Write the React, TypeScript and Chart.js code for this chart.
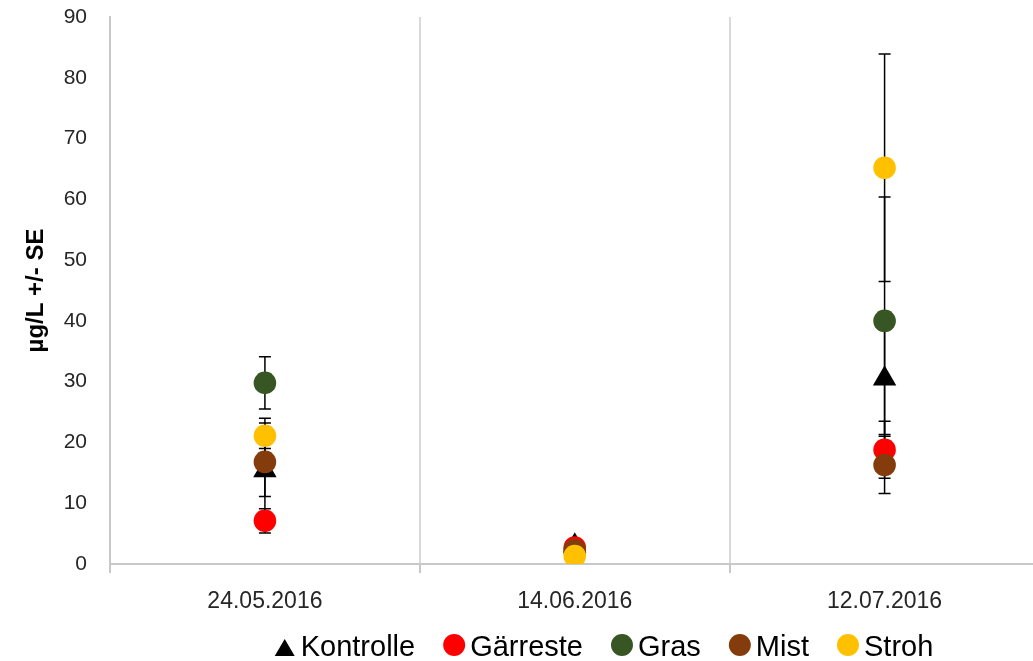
import { useEffect, useRef } from "react";
import { Chart, registerables } from "chart.js";

Chart.register(...registerables);

// Sampling dates (x categories)
const dates = ["24.05.2016", "14.06.2016", "12.07.2016"];

// Mean concentrations (µg/L) and standard errors per treatment
const kontrolle = [15.4, 3.0, 30.5];
const kontrolleSE = [8.6, 0.5, 9.2];
const gaerreste = [7.1, 2.7, 18.8];
const gaerresteSE = [2.0, 0.4, 4.7];
const gras = [29.8, 2.0, 40.0];
const grasSE = [4.3, 0.3, 20.4];
const mist = [16.8, 2.3, 16.3];
const mistSE = [5.7, 0.4, 4.7];
const stroh = [21.1, 1.3, 65.2];
const strohSE = [2.1, 0.3, 18.7];

// Y axis ticks
const yTicks = [0, 10, 20, 30, 40, 50, 60, 70, 80, 90];

const seriesNames = ["Kontrolle", "Gärreste", "Gras", "Mist", "Stroh"];
const seriesColors = ["#000000", "#FF0000", "#375623", "#843C0C", "#FFC000"];

const FONT = "'Liberation Sans', Arial, sans-serif";

// Vertical SE whiskers with caps, drawn underneath the markers
const errorBarPlugin = {
  id: "errorBars",
  beforeDatasetsDraw(chart: any) {
    const { ctx } = chart;
    const yScale = chart.scales.y;
    ctx.save();
    ctx.strokeStyle = "#000000";
    ctx.lineWidth = 1.5;
    chart.data.datasets.forEach((ds: any, i: number) => {
      const meta = chart.getDatasetMeta(i);
      meta.data.forEach((pt: any, j: number) => {
        const v = ds.data[j];
        const e = ds.errors[j];
        const x = pt.x;
        const yTop = yScale.getPixelForValue(v + e);
        const yBot = yScale.getPixelForValue(v - e);
        ctx.beginPath();
        ctx.moveTo(x, yTop);
        ctx.lineTo(x, yBot);
        ctx.moveTo(x - 6, yTop);
        ctx.lineTo(x + 6, yTop);
        ctx.moveTo(x - 6, yBot);
        ctx.lineTo(x + 6, yBot);
        ctx.stroke();
      });
    });
    ctx.restore();
  },
};

// Legend row below the axis
const legendPlugin = {
  id: "bottomLegend",
  afterDraw(chart: any) {
    const { ctx } = chart;
    const centerX = 603.5;
    const baseline = 656;
    const markerCY = 645;
    const r = 11;
    const markerToText = 27;
    const gap = 28;
    ctx.save();
    ctx.font = `29px ${FONT}`;
    const widths = seriesNames.map((n) => ctx.measureText(n).width);
    const total =
      widths.reduce((a, b) => a + b, 0) +
      seriesNames.length * markerToText +
      (seriesNames.length - 1) * gap;
    let x = centerX - total / 2;
    chart.data.datasets.forEach((ds: any, i: number) => {
      ctx.fillStyle = ds.backgroundColor;
      ctx.beginPath();
      if (ds.pointStyle === "triangle") {
        ctx.moveTo(x + r, baseline - 17);
        ctx.lineTo(x + 2 * r - 1, baseline);
        ctx.lineTo(x + 1, baseline);
        ctx.closePath();
      } else {
        ctx.arc(x + r, markerCY, r, 0, Math.PI * 2);
      }
      ctx.fill();
      ctx.fillStyle = "#000000";
      ctx.textBaseline = "alphabetic";
      ctx.textAlign = "left";
      ctx.fillText(ds.label, x + markerToText, baseline);
      x += markerToText + widths[i] + gap;
    });
    ctx.restore();
  },
};

const valueSets = [kontrolle, gaerreste, gras, mist, stroh];
const errorSets = [kontrolleSE, gaerresteSE, grasSE, mistSE, strohSE];

export default function App() {
  const canvasRef = useRef<HTMLCanvasElement | null>(null);

  useEffect(() => {
    const canvas = canvasRef.current;
    if (!canvas) return;

    const datasets = seriesNames.map((name, i) => ({
      label: name,
      data: valueSets[i],
      errors: errorSets[i],
      backgroundColor: seriesColors[i],
      borderColor: seriesColors[i],
      pointBackgroundColor: seriesColors[i],
      pointBorderWidth: 0,
      pointStyle: i === 0 ? "triangle" : "circle",
      pointRadius: i === 0 ? 13.5 : 11.3,
      showLine: false,
      // later series sit on top of earlier ones
      order: seriesNames.length - i,
    }));

    const chart = new Chart(canvas, {
      type: "line",
      data: { labels: dates, datasets: datasets as any },
      plugins: [errorBarPlugin, legendPlugin],
      options: {
        animation: false,
        responsive: false,
        events: [],
        layout: { padding: { top: 17, right: 0, bottom: 47, left: 0 } },
        plugins: {
          legend: { display: false },
          tooltip: { enabled: false },
        },
        scales: {
          x: {
            type: "category",
            offset: true,
            grid: {
              offset: true,
              color: "#d9d9d9",
              lineWidth: 2,
              tickLength: 9,
              tickColor: "#c8c8c8",
            },
            border: { color: "#c8c8c8", width: 2 },
            ticks: {
              color: "#262626",
              font: { family: FONT, size: 23 },
              padding: 15,
              maxRotation: 0,
            },
            afterFit(scale: any) {
              scale.height = 50;
              scale.paddingLeft = 0;
              scale.paddingRight = 0;
            },
          },
          y: {
            min: 0,
            max: 90,
            afterBuildTicks(scale: any) {
              scale.ticks = yTicks.map((v) => ({ value: v }));
            },
            grid: { display: false, drawTicks: false },
            border: { display: true, color: "#c8c8c8", width: 2 },
            ticks: {
              color: "#262626",
              font: { family: FONT, size: 21 },
              padding: 23,
            },
            title: {
              display: true,
              text: "µg/L +/- SE",
              color: "#000000",
              font: { family: FONT, size: 24, weight: "bold" },
              padding: { top: 22, bottom: 0 },
            },
            afterFit(scale: any) {
              scale.width = 110;
              scale.paddingTop = 0;
              scale.paddingBottom = 0;
            },
          },
        },
      } as any,
    });

    return () => chart.destroy();
  }, []);

  return (
    <div
      style={{
        position: "fixed",
        left: 0,
        top: 0,
        width: 1033,
        height: 661,
        overflow: "hidden",
        background: "#ffffff",
      }}
    >
      <canvas ref={canvasRef} width={1053} height={661} />
    </div>
  );
}
